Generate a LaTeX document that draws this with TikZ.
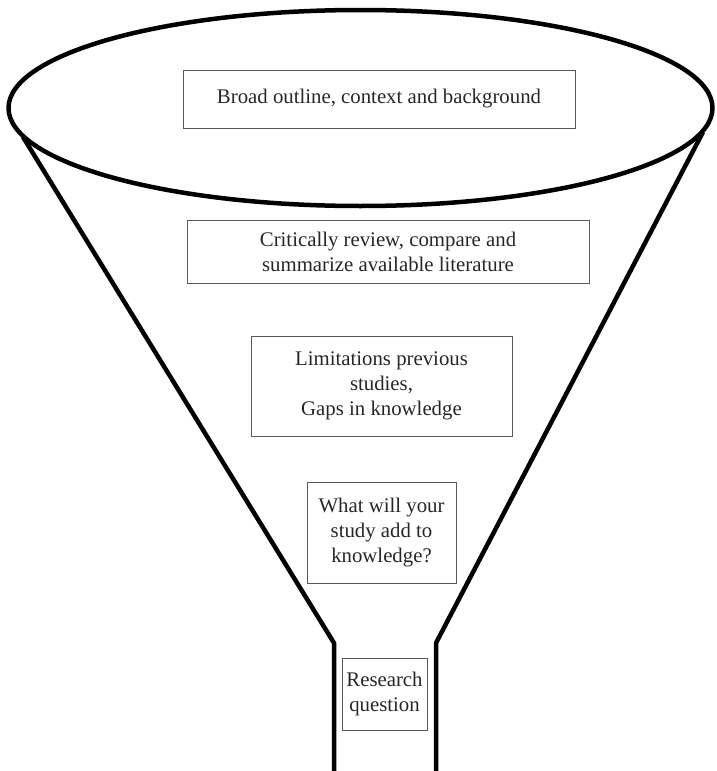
\documentclass[tikz,border=0pt]{standalone}
\usepackage{fontspec}
\setmainfont{Liberation Serif}
\tikzset{
  stage/.style={draw=black!65, line width=0.9pt, text=black!85, align=center,
    inner sep=0pt, font=\fontsize{20.8}{25}\selectfont},
  funnel/.style={line width=4.5pt, line join=round}
}
\begin{document}
\begin{tikzpicture}[x=1pt,y=-1pt]
        \useasboundingbox (0,0) rectangle (716,771);
        % funnel outline
        \draw[funnel] (360.5,108) ellipse [x radius=352, y radius=98];
        \draw[funnel] (23,137) -- (334,643) -- (334,771);
        \draw[funnel] (703,132) -- (436,643) -- (436,771);
        % stages, wide to narrow
        \node[stage, minimum width=392, minimum height=58] (context) at (379,99) {Broad outline, context and background};
        \node[stage, minimum width=402, minimum height=63] (review) at (388,251.5) {Critically review, compare and\\summarize available literature};
        \node[stage, minimum width=261, minimum height=100] (gaps) at (381.5,386) {Limitations previous\\studies,\\Gaps in knowledge};
        \node[stage, minimum width=149, minimum height=101] (add) at (381.5,532.5) {What will your\\study add to\\knowledge?};
        \node[stage, minimum width=85, minimum height=72] (question) at (384.5,694) {Research\\question};
    \end{tikzpicture}
\end{document}
